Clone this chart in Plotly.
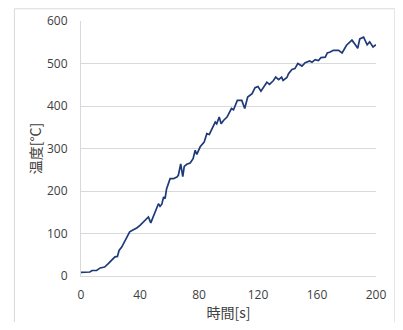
import plotly.graph_objects as go

time_s = [0, 6, 7.5, 10.6, 13, 16, 18.5, 21, 23, 24.7, 25.8, 27.6, 30, 32, 33, 35.5, 37.8, 40, 42.3, 44, 45.7, 47.3, 49, 51, 52.5, 53.6, 54.8, 56, 57, 58, 60.4, 62.7, 65, 66, 67.6, 69, 70, 71.7, 74, 76, 77.4, 78.5, 80.8, 83.5, 85.3, 87, 88.7, 91, 92, 93.7, 95, 96.6, 99, 100.7, 102, 103.4, 106, 109, 111, 113, 116, 118, 120, 122, 124, 126, 127.8, 130.5, 132, 134, 136, 137, 139.6, 140.7, 143, 145, 147, 149.8, 152, 155, 156.6, 158.8, 161, 162.7, 165.6, 167, 169, 171, 174.7, 177, 180, 183.7, 186, 187.6, 189, 191.6, 194, 195.7, 198, 200]
temp_c = [8.6, 9.4, 13, 13, 19, 21, 29, 37, 45, 46, 60, 68, 84, 96, 104, 109, 113, 119, 127, 131, 139, 125, 139, 155, 170, 164, 169, 186, 182, 205, 229, 229, 233, 237, 264, 234, 258, 263, 266, 276, 296, 286, 304, 315, 335, 333, 347, 362, 358, 374, 358, 366, 374, 386, 394, 391, 413, 413, 394, 421, 429, 443, 446, 435, 446, 456, 451, 460, 468, 462, 468, 460, 467, 476, 486, 488, 500, 494, 502, 506, 503, 509, 507, 514, 515, 525, 527, 531, 531, 525, 543, 555, 544, 536, 558, 562, 544, 551, 539, 544]

x_ticks = [0, 40, 80, 120, 160, 200]
y_ticks = [0, 100, 200, 300, 400, 500, 600]

fig = go.Figure()
fig.add_trace(go.Scatter(x=time_s, y=temp_c, mode="lines",
                         line=dict(color="#1F3A78", width=1.7), showlegend=False))

# page is rendered with an 8px body margin; compensate and avoid overflow
OFF = 8
W, H = 403 - 2 * OFF, 330 - 2 * OFF
L, T = 81 - OFF, 20.7 - OFF
PR, PB = 375.7 - OFF, 275.7 - OFF
R, B = W - PR, H - PB
pw, ph = PR - L, PB - T

fig.add_shape(type="rect", xref="paper", yref="paper",
              x0=(14.5 - OFF - L) / pw, x1=(W - 0.5 - L) / pw,
              y0=(PB - (H + 5)) / ph, y1=(PB - 0.5) / ph,
              line=dict(color="#D9D9D9", width=1), layer="above")

tickfont = dict(family="Open Sans, Noto Sans CJK JP", size=12, color="#404040")
titlefont = dict(family="Noto Sans CJK JP", size=14, color="#404040")

fig.update_layout(
    width=W, height=H,
    margin=dict(l=L, r=R, t=T, b=B, autoexpand=False),
    paper_bgcolor="white", plot_bgcolor="white",
    xaxis=dict(range=[0, 200], tickvals=x_ticks, showgrid=False, zeroline=False,
               showline=True, linecolor="#D9D9D9", linewidth=1, automargin=False,
               tickfont=tickfont, ticks="", ticklabelstandoff=8,
               title=dict(text="時間[s]", font=titlefont, standoff=5)),
    yaxis=dict(range=[0, 600], tickvals=y_ticks, showgrid=True, gridcolor="#D9D9D9",
               gridwidth=1, zeroline=False, showline=True, linecolor="#D9D9D9",
               linewidth=1, automargin=False, tickfont=tickfont, ticks="",
               ticklabelstandoff=10,
               title=dict(text="温度[°C]", font=titlefont, standoff=2)),
)

fig.write_html("out.html")
